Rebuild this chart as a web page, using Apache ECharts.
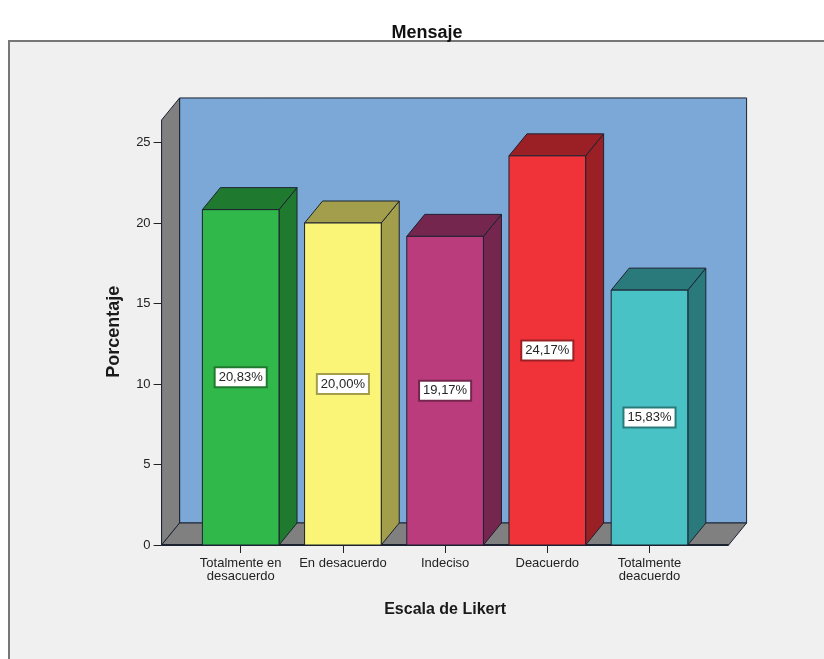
<!DOCTYPE html>
<html>
<head>
<meta charset="utf-8">
<script src="https://cdn.jsdelivr.net/npm/echarts@6/dist/echarts.min.js"></script>
<style>
  html, body { margin: 0; padding: 0; background: #ffffff; }
  #chart { width: 824px; height: 659px; }
</style>
</head>
<body>
<div id="chart"></div>
<script>
// Likert categories and their percentages
const categories = ['Totalmente en\ndesacuerdo', 'En desacuerdo', 'Indeciso', 'Deacuerdo', 'Totalmente\ndeacuerdo'];
const percentages = [20.83, 20.00, 19.17, 24.17, 15.83];
const yTicks = [0, 5, 10, 15, 20, 25];

// face colours for each bar: front, then top/side shade
const frontColors = ['#31b84a', '#fbf577', '#ba3c7d', '#f03239', '#49c2c6'];
const shadeColors = ['#1f7a2f', '#a29e4b', '#74264e', '#9b2026', '#2b7a7b'];

// 3D look
const DEPTH_X = 18;
const DEPTH_Y = 22;
const SIDE_PAD = 28;       // room between the outer bars and the walls
const WALL_TOP = 26.4;     // height of the walls in axis units
const OUTLINE = '#1c2230';
const FONT = '"Liberation Sans", Arial, sans-serif';

const chart = echarts.init(document.getElementById('chart'));

function fmt(v) {
  return v.toFixed(2).replace('.', ',') + '%';
}

// back wall, left wall and floor of the box
function renderWalls(params, api) {
  const band = api.size([1, 0])[0];
  const first = api.coord([0, 0]);
  const last = api.coord([categories.length - 1, 0]);
  const top = api.coord([0, WALL_TOP])[1];
  const x0 = first[0] - band / 2 - SIDE_PAD;
  const x1 = last[0] + band / 2 + SIDE_PAD;
  const yb = first[1];
  const lineStyle = { stroke: OUTLINE, lineWidth: 1 };
  return {
    type: 'group',
    children: [
      {
        type: 'rect',
        shape: { x: x0 + DEPTH_X, y: top - DEPTH_Y, width: x1 - x0, height: yb - top },
        style: Object.assign({ fill: '#7ba8d7' }, lineStyle)
      },
      {
        type: 'polygon',
        shape: { points: [[x0, yb], [x0, top], [x0 + DEPTH_X, top - DEPTH_Y], [x0 + DEPTH_X, yb - DEPTH_Y]] },
        style: Object.assign({ fill: '#808080' }, lineStyle)
      },
      {
        type: 'polygon',
        shape: { points: [[x0, yb], [x1, yb], [x1 + DEPTH_X, yb - DEPTH_Y], [x0 + DEPTH_X, yb - DEPTH_Y]] },
        style: Object.assign({ fill: '#808080' }, lineStyle)
      },
      {
        type: 'line',
        shape: { x1: x0, y1: yb, x2: x1, y2: yb },
        style: { stroke: OUTLINE, lineWidth: 2 }
      }
    ]
  };
}

// one 3D bar with its value label
function renderBar(params, api) {
  const i = api.value(0);
  const v = api.value(1);
  const topPt = api.coord([i, v]);
  const basePt = api.coord([i, 0]);
  const midPt = api.coord([i, v / 2]);
  const hw = api.size([1, 0])[0] * 0.375;
  const cx = topPt[0];
  const yt = topPt[1];
  const yb = basePt[1];
  const front = frontColors[params.dataIndex];
  const shade = shadeColors[params.dataIndex];
  const lineStyle = { stroke: OUTLINE, lineWidth: 1 };
  return {
    type: 'group',
    children: [
      {
        type: 'polygon',
        shape: { points: [[cx + hw, yt], [cx + hw + DEPTH_X, yt - DEPTH_Y], [cx + hw + DEPTH_X, yb - DEPTH_Y], [cx + hw, yb]] },
        style: Object.assign({ fill: shade }, lineStyle)
      },
      {
        type: 'polygon',
        shape: { points: [[cx - hw, yt], [cx + hw, yt], [cx + hw + DEPTH_X, yt - DEPTH_Y], [cx - hw + DEPTH_X, yt - DEPTH_Y]] },
        style: Object.assign({ fill: shade }, lineStyle)
      },
      {
        type: 'rect',
        shape: { x: cx - hw, y: yt, width: hw * 2, height: yb - yt },
        style: Object.assign({ fill: front }, lineStyle)
      },
      {
        type: 'text',
        z2: 10,
        style: {
          text: fmt(v),
          x: cx,
          y: midPt[1],
          align: 'center',
          verticalAlign: 'middle',
          fill: '#262626',
          font: '13px ' + FONT,
          backgroundColor: '#ffffff',
          borderColor: shade,
          borderWidth: 2,
          padding: [3, 3, 2, 3]
        }
      }
    ]
  };
}

chart.setOption({
  backgroundColor: '#ffffff',
  animation: false,
  title: {
    text: 'Mensaje',
    left: 422,
    top: 19,
    textAlign: 'center',
    textStyle: { fontFamily: FONT, fontSize: 18, fontWeight: 'bold', color: '#111111' }
  },
  graphic: [
    {
      type: 'rect',
      z: -100,
      silent: true,
      shape: { x: 9, y: 41, width: 900, height: 700 },
      style: { fill: '#f0f0f0', stroke: '#777777', lineWidth: 2 }
    }
  ],
  grid: { left: 189.6, width: 511, top: 142.5, height: 402.5 },
  xAxis: {
    type: 'category',
    data: categories,
    name: 'Escala de Likert',
    nameLocation: 'middle',
    nameGap: 57,
    nameTextStyle: { fontFamily: FONT, fontSize: 16, fontWeight: 'bold', color: '#1a1a1a' },
    axisLine: { show: false },
    axisTick: { show: true, alignWithLabel: true, length: 8, lineStyle: { color: '#222222', width: 1 } },
    axisLabel: { fontFamily: FONT, fontSize: 13, color: '#222222', margin: 12, lineHeight: 13, interval: 0 },
    splitLine: { show: false }
  },
  yAxis: {
    type: 'value',
    min: yTicks[0],
    max: yTicks[yTicks.length - 1],
    interval: 5,
    offset: SIDE_PAD,
    name: 'Porcentaje',
    nameLocation: 'middle',
    nameGap: 39,
    nameTextStyle: { fontFamily: FONT, fontSize: 18, fontWeight: 'bold', color: '#1a1a1a', padding: [0, 0, 0, 24] },
    axisLine: { show: true, lineStyle: { color: '#222222', width: 1 } },
    axisTick: { show: true, length: 8, lineStyle: { color: '#222222', width: 1 } },
    axisLabel: { fontFamily: FONT, fontSize: 13, color: '#222222', margin: 11 },
    splitLine: { show: false }
  },
  series: [
    {
      type: 'custom',
      z: 1,
      silent: true,
      renderItem: renderWalls,
      data: [[0, 0]]
    },
    {
      type: 'custom',
      z: 2,
      renderItem: renderBar,
      encode: { x: 0, y: 1 },
      data: percentages.map((v, i) => [i, v])
    }
  ]
});
</script>
</body>
</html>
